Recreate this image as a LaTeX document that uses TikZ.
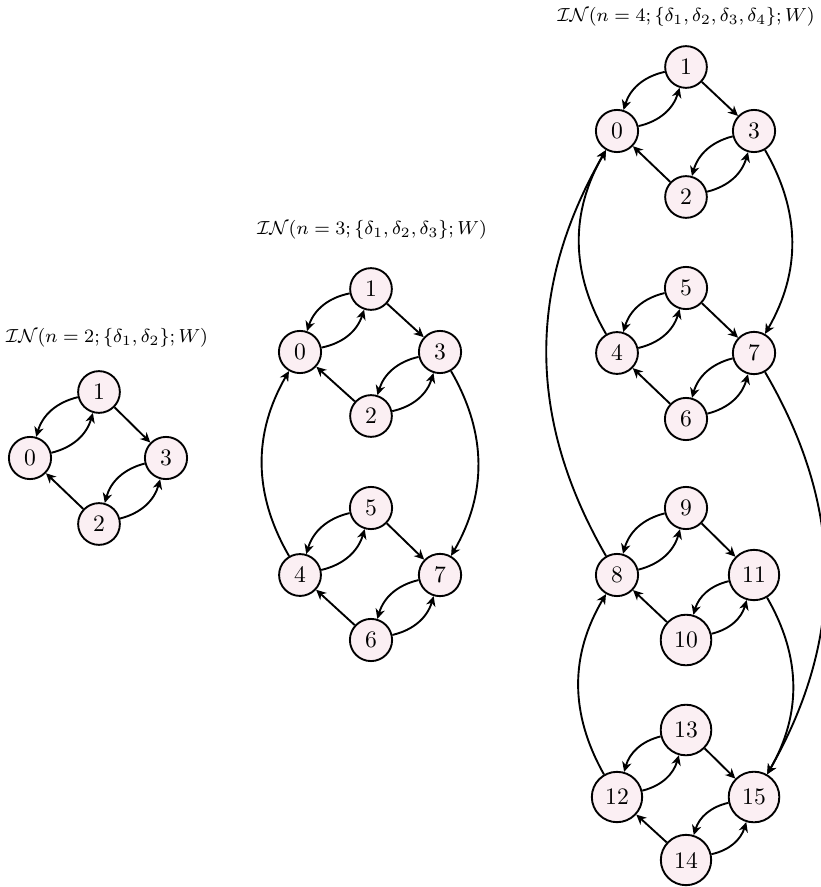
\documentclass[tikz,border=0pt]{standalone}
\usetikzlibrary{arrows.meta}
\definecolor{nodefill}{HTML}{FBEFF3}
\tikzset{
  vtx/.style={circle, draw=black, thick, fill=nodefill, font=\normalsize},
  arr/.style={thick, -{Stealth[length=4.2pt,width=4pt,inset=1.3pt]}},
  ttl/.style={font=\fontsize{8.3}{10}\selectfont, inner sep=0pt}
}
\newcommand\blockedges[4]{%
  \draw[arr] (#2) to[bend right] (#1);
  \draw[arr] (#1) to[bend right] (#2);
  \draw[arr] (#2) -- (#3);
  \draw[arr] (#3) to[bend right] (#4);
  \draw[arr] (#4) to[bend right] (#3);
  \draw[arr] (#4) -- (#1);
}
\begin{document}
\begin{tikzpicture}[x=0.4237pt, y=-0.4237pt]
\useasboundingbox (0,0) rectangle (821,887);
% titles
\node[ttl] (t1) at (107,338) {$\mathcal{IN}(n=2;\{\delta_1,\delta_2\};W)$};
\node[ttl] (t2) at (372,230) {$\mathcal{IN}(n=3;\{\delta_1,\delta_2,\delta_3\};W)$};
\node[ttl] (t3) at (686,17) {$\mathcal{IN}(n=4;\{\delta_1,\delta_2,\delta_3,\delta_4\};W)$};
% diagram 1
\node[vtx] (a0) at (30,458) {0};
\node[vtx] (a1) at (99,392) {1};
\node[vtx] (a3) at (166,458) {3};
\node[vtx] (a2) at (99,524) {2};
\blockedges{a0}{a1}{a3}{a2}
% diagram 2
\node[vtx] (b0) at (300,352) {0};
\node[vtx] (b1) at (371,289) {1};
\node[vtx] (b3) at (440,352) {3};
\node[vtx] (b2) at (371,416) {2};
\node[vtx] (b4) at (300,575) {4};
\node[vtx] (b5) at (371,508) {5};
\node[vtx] (b7) at (440,575) {7};
\node[vtx] (b6) at (371,640) {6};
\blockedges{b0}{b1}{b3}{b2}
\blockedges{b4}{b5}{b7}{b6}
\draw[arr] (b4) to[bend left] (b0);
\draw[arr] (b3) to[bend left] (b7);
% diagram 3
\node[vtx] (c0) at (617,131) {0};
\node[vtx] (c1) at (686,67) {1};
\node[vtx] (c3) at (754,131) {3};
\node[vtx] (c2) at (686,197) {2};
\node[vtx] (c4) at (617,353) {4};
\node[vtx] (c5) at (686,288) {5};
\node[vtx] (c7) at (754,353) {7};
\node[vtx] (c6) at (686,419) {6};
\node[vtx] (c8) at (617,575) {8};
\node[vtx] (c9) at (686,508) {9};
\node[vtx] (c11) at (754,575) {11};
\node[vtx] (c10) at (686,640) {10};
\node[vtx] (c12) at (617,797) {12};
\node[vtx] (c13) at (686,730) {13};
\node[vtx] (c15) at (754,797) {15};
\node[vtx] (c14) at (686,860) {14};
\blockedges{c0}{c1}{c3}{c2}
\blockedges{c4}{c5}{c7}{c6}
\blockedges{c8}{c9}{c11}{c10}
\blockedges{c12}{c13}{c15}{c14}
\draw[arr] (c4) to[bend left] (c0);
\draw[arr] (c8) to[bend left] (c0);
\draw[arr] (c12) to[bend left] (c8);
\draw[arr] (c3) to[bend left] (c7);
\draw[arr] (c7) to[bend left] (c15);
\draw[arr] (c11) to[bend left] (c15);
\end{tikzpicture}
\end{document}
